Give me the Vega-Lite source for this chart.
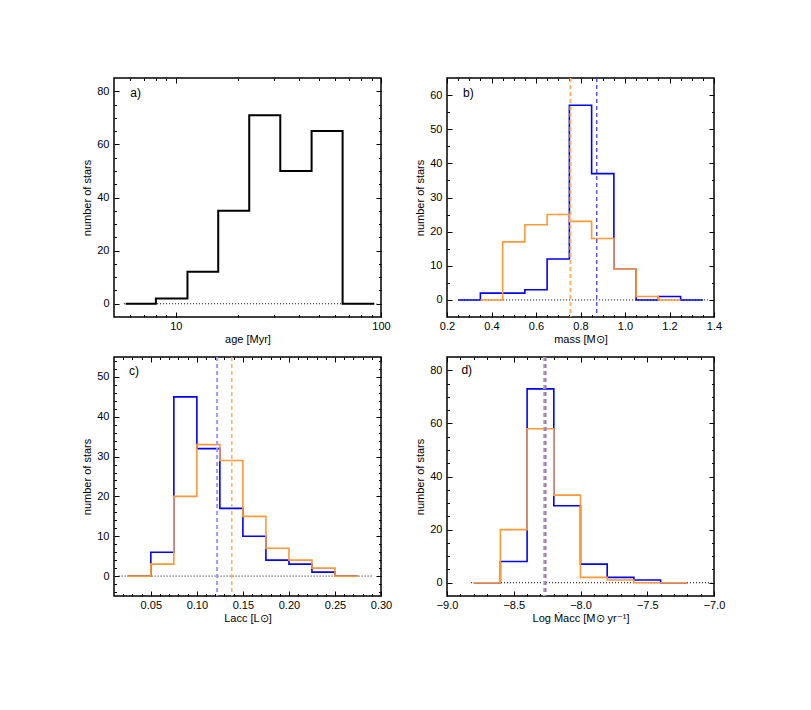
{
"$schema": "https://vega.github.io/schema/vega-lite/v6.json",
"background": "white",
"padding": {"left": 81, "top": 76, "right": 5, "bottom": 5},
"datasets": {
 "a_hist": [{"x":5.7,"count":0},{"x":8.0,"count":2},{"x":11.4,"count":12},{"x":16.1,"count":35},{"x":22.8,"count":71},{"x":32.3,"count":50},{"x":45.9,"count":65},{"x":65.0,"count":0},{"x":92.7,"count":0}],
 "b_hist": [
  {"sample":"S1","x":0.25,"count":0},{"sample":"S1","x":0.35,"count":2},{"sample":"S1","x":0.45,"count":2},{"sample":"S1","x":0.55,"count":3},{"sample":"S1","x":0.65,"count":12},{"sample":"S1","x":0.75,"count":57},{"sample":"S1","x":0.85,"count":37},{"sample":"S1","x":0.95,"count":9},{"sample":"S1","x":1.05,"count":0},{"sample":"S1","x":1.15,"count":1},{"sample":"S1","x":1.25,"count":0},{"sample":"S1","x":1.35,"count":0},
  {"sample":"S2","x":0.35,"count":0},{"sample":"S2","x":0.45,"count":17},{"sample":"S2","x":0.55,"count":22},{"sample":"S2","x":0.65,"count":25},{"sample":"S2","x":0.75,"count":23},{"sample":"S2","x":0.85,"count":18},{"sample":"S2","x":0.95,"count":9},{"sample":"S2","x":1.05,"count":1},{"sample":"S2","x":1.15,"count":0},{"sample":"S2","x":1.25,"count":0}],
 "c_hist": [
  {"sample":"S1","x":0.025,"count":0},{"sample":"S1","x":0.05,"count":6},{"sample":"S1","x":0.075,"count":45},{"sample":"S1","x":0.1,"count":32},{"sample":"S1","x":0.125,"count":17},{"sample":"S1","x":0.15,"count":10},{"sample":"S1","x":0.175,"count":4},{"sample":"S1","x":0.2,"count":3},{"sample":"S1","x":0.225,"count":1},{"sample":"S1","x":0.25,"count":0},{"sample":"S1","x":0.275,"count":0},
  {"sample":"S2","x":0.025,"count":0},{"sample":"S2","x":0.05,"count":3},{"sample":"S2","x":0.075,"count":20},{"sample":"S2","x":0.1,"count":33},{"sample":"S2","x":0.125,"count":29},{"sample":"S2","x":0.15,"count":15},{"sample":"S2","x":0.175,"count":7},{"sample":"S2","x":0.2,"count":4},{"sample":"S2","x":0.225,"count":2},{"sample":"S2","x":0.25,"count":0},{"sample":"S2","x":0.275,"count":0}],
 "d_hist": [
  {"sample":"S1","x":-8.8,"count":0},{"sample":"S1","x":-8.6,"count":8},{"sample":"S1","x":-8.4,"count":73},{"sample":"S1","x":-8.2,"count":29},{"sample":"S1","x":-8.0,"count":7},{"sample":"S1","x":-7.8,"count":2},{"sample":"S1","x":-7.6,"count":1},{"sample":"S1","x":-7.4,"count":0},{"sample":"S1","x":-7.2,"count":0},
  {"sample":"S2","x":-8.8,"count":0},{"sample":"S2","x":-8.6,"count":20},{"sample":"S2","x":-8.4,"count":58},{"sample":"S2","x":-8.2,"count":33},{"sample":"S2","x":-8.0,"count":2},{"sample":"S2","x":-7.8,"count":1},{"sample":"S2","x":-7.6,"count":0},{"sample":"S2","x":-7.4,"count":0},{"sample":"S2","x":-7.2,"count":0}],
 "zero": [{"panel":"a","x0":5.6,"x1":95},{"panel":"b","x0":0.25,"x1":1.38},{"panel":"c","x0":0.015,"x1":0.29},{"panel":"d","x0":-8.82,"x1":-7.02}],
 "means": [{"panel":"b","sample":"S2","mean":0.755},{"panel":"b","sample":"S1","mean":0.873},{"panel":"c","sample":"S1","mean":0.122},{"panel":"c","sample":"S2","mean":0.138},{"panel":"d","sample":"S2","mean":-8.272},{"panel":"d","sample":"S1","mean":-8.262}],
 "labels": [{"panel":"a","label":"a)"},{"panel":"b","label":"b)"},{"panel":"c","label":"c)"},{"panel":"d","label":"d)"}]
},
"columns": 2,
"spacing": {"row": 10, "column": 21},
"concat": [
 {
  "width": 267, "height": 239,
  "resolve": {"axis": {"x": "independent", "y": "independent"}},
  "layer": [
   {"data":{"name":"a_hist"},"mark":{"type":"point","opacity":0},
    "encoding":{"x":{"field":"x","type":"quantitative","scale":{"type":"log","domain":[5,100],"nice":false},"axis":{"orient":"bottom","values":[10,100],"labels":false,"tickSize":-5,"title":null}},
     "y":{"field":"count","type":"quantitative","axis":{"orient":"left","values":[0,20,40,60,80],"labels":false,"tickSize":-5,"title":null}}}},
   {"data":{"name":"a_hist"},"mark":{"type":"point","opacity":0},
    "encoding":{"x":{"field":"x","type":"quantitative","scale":{"type":"log","domain":[5,100],"nice":false},"axis":{"orient":"bottom","values":[6,7,8,9,20,30,40,50,60,70,80,90],"labels":false,"tickSize":-2.5,"title":null}},
     "y":{"field":"count","type":"quantitative","axis":{"orient":"left","values":[5,10,15,25,30,35,45,50,55,65,70,75],"labels":false,"tickSize":-2.5,"title":null}}}},
   {"data":{"name":"a_hist"},"mark":{"type":"point","opacity":0},
    "encoding":{"x":{"field":"x","type":"quantitative","scale":{"type":"log","domain":[5,100],"nice":false},"axis":{"orient":"top","values":[10,100],"labels":false,"tickSize":-5,"title":null}},
     "y":{"field":"count","type":"quantitative","axis":{"orient":"right","values":[0,20,40,60,80],"labels":false,"tickSize":-5,"title":null}}}},
   {"data":{"name":"a_hist"},"mark":{"type":"point","opacity":0},
    "encoding":{"x":{"field":"x","type":"quantitative","scale":{"type":"log","domain":[5,100],"nice":false},"axis":{"orient":"top","values":[6,7,8,9,20,30,40,50,60,70,80,90],"labels":false,"tickSize":-2.5,"title":null}},
     "y":{"field":"count","type":"quantitative","axis":{"orient":"right","values":[5,10,15,25,30,35,45,50,55,65,70,75],"labels":false,"tickSize":-2.5,"title":null}}}},
   {"data":{"name":"zero"},"transform":[{"filter":"datum.panel=='a'"}],"mark":{"type":"rule","color":"black","strokeWidth":1,"strokeDash":[1,2]},
    "encoding":{"x":{"field":"x0","type":"quantitative","scale":{"type":"log","domain":[5,100],"nice":false},"axis":null},"x2":{"field":"x1"},"y":{"datum":0,"axis":null}}},
   {"data":{"name":"a_hist"},"mark":{"type":"line","interpolate":"step-after","color":"black","strokeWidth":2},
    "encoding":{"x":{"field":"x","type":"quantitative","scale":{"type":"log","domain":[5,100],"nice":false},"axis":{"orient":"bottom","values":[10,100],"format":"d","ticks":false,"labelPadding":3,"title":"age [Myr]","titlePadding":2}},
     "y":{"field":"count","type":"quantitative","scale":{"domain":[-5,85],"nice":false,"zero":false},"axis":{"orient":"left","values":[0,20,40,60,80],"format":"d","ticks":false,"labelPadding":5,"title":"number of stars","titlePadding":4}}}},
   {"data":{"name":"labels"},"transform":[{"filter":"datum.panel=='a'"}],"mark":{"type":"text","align":"left","baseline":"middle","fontSize":12},
    "encoding":{"x":{"datum":6.0,"scale":{"type":"log","domain":[5,100],"nice":false},"axis":null},"y":{"datum":79.5,"axis":null},"text":{"field":"label"}}}
  ]
 },
 {
  "width": 267, "height": 239,
  "resolve": {"axis": {"x": "independent", "y": "independent"}},
  "layer": [
   {"data":{"name":"b_hist"},"mark":{"type":"point","opacity":0},
    "encoding":{"x":{"field":"x","type":"quantitative","axis":{"orient":"bottom","values":[0.2,0.4,0.6,0.8,1.0,1.2,1.4],"labels":false,"tickSize":-5,"title":null}},
     "y":{"field":"count","type":"quantitative","axis":{"orient":"left","values":[0,10,20,30,40,50,60],"labels":false,"tickSize":-5,"title":null}}}},
   {"data":{"name":"b_hist"},"mark":{"type":"point","opacity":0},
    "encoding":{"x":{"field":"x","type":"quantitative","axis":{"orient":"bottom","values":[0.25,0.3,0.35,0.45,0.5,0.55,0.65,0.7,0.75,0.85,0.9,0.95,1.05,1.1,1.15,1.25,1.3,1.35],"labels":false,"tickSize":-2.5,"title":null}},
     "y":{"field":"count","type":"quantitative","axis":{"orient":"left","values":[5,15,25,35,45,55],"labels":false,"tickSize":-2.5,"title":null}}}},
   {"data":{"name":"b_hist"},"mark":{"type":"point","opacity":0},
    "encoding":{"x":{"field":"x","type":"quantitative","axis":{"orient":"top","values":[0.2,0.4,0.6,0.8,1.0,1.2,1.4],"labels":false,"tickSize":-5,"title":null}},
     "y":{"field":"count","type":"quantitative","axis":{"orient":"right","values":[0,10,20,30,40,50,60],"labels":false,"tickSize":-5,"title":null}}}},
   {"data":{"name":"b_hist"},"mark":{"type":"point","opacity":0},
    "encoding":{"x":{"field":"x","type":"quantitative","axis":{"orient":"top","values":[0.25,0.3,0.35,0.45,0.5,0.55,0.65,0.7,0.75,0.85,0.9,0.95,1.05,1.1,1.15,1.25,1.3,1.35],"labels":false,"tickSize":-2.5,"title":null}},
     "y":{"field":"count","type":"quantitative","axis":{"orient":"right","values":[5,15,25,35,45,55],"labels":false,"tickSize":-2.5,"title":null}}}},
   {"data":{"name":"zero"},"transform":[{"filter":"datum.panel=='b'"}],"mark":{"type":"rule","color":"black","strokeWidth":1,"strokeDash":[1,2]},
    "encoding":{"x":{"field":"x0","type":"quantitative","axis":null},"x2":{"field":"x1"},"y":{"datum":0,"axis":null}}},
   {"data":{"name":"b_hist"},"mark":{"type":"line","interpolate":"step-after","strokeWidth":1.6},
    "encoding":{"x":{"field":"x","type":"quantitative","scale":{"domain":[0.2,1.4],"nice":false,"zero":false},"axis":{"orient":"bottom","values":[0.2,0.4,0.6,0.8,1.0,1.2,1.4],"format":".1f","ticks":false,"labelPadding":3,"title":"mass [M⊙]","titlePadding":2}},
     "y":{"field":"count","type":"quantitative","scale":{"domain":[-5,65],"nice":false,"zero":false},"axis":{"orient":"left","values":[0,10,20,30,40,50,60],"format":"d","ticks":false,"labelPadding":5,"title":"number of stars","titlePadding":4}},
     "color":{"field":"sample","type":"nominal","scale":{"domain":["S1","S2"],"range":["#0000ff","#ff9933"]},"legend":null}}},
   {"data":{"name":"means"},"transform":[{"filter":"datum.panel=='b' && datum.sample=='S2'"}],"mark":{"type":"rule","color":"#ffb366","strokeWidth":2,"strokeDash":[4,3]},
    "encoding":{"x":{"field":"mean","type":"quantitative","axis":null}}},
   {"data":{"name":"means"},"transform":[{"filter":"datum.panel=='b' && datum.sample=='S1'"}],"mark":{"type":"rule","color":"#3333ff","strokeWidth":1.2,"strokeDash":[4,3]},
    "encoding":{"x":{"field":"mean","type":"quantitative","axis":null}}},
   {"data":{"name":"labels"},"transform":[{"filter":"datum.panel=='b'"}],"mark":{"type":"text","align":"left","baseline":"middle","fontSize":12},
    "encoding":{"x":{"datum":0.272,"axis":null},"y":{"datum":60.6,"axis":null},"text":{"field":"label"}}}
  ]
 },
 {
  "width": 267, "height": 239,
  "resolve": {"axis": {"x": "independent", "y": "independent"}},
  "layer": [
   {"data":{"name":"c_hist"},"mark":{"type":"point","opacity":0},
    "encoding":{"x":{"field":"x","type":"quantitative","axis":{"orient":"bottom","values":[0.05,0.1,0.15,0.2,0.25,0.3],"labels":false,"tickSize":-5,"title":null}},
     "y":{"field":"count","type":"quantitative","axis":{"orient":"left","values":[0,10,20,30,40,50],"labels":false,"tickSize":-5,"title":null}}}},
   {"data":{"name":"c_hist"},"mark":{"type":"point","opacity":0},
    "encoding":{"x":{"field":"x","type":"quantitative","axis":{"orient":"bottom","values":[0.02,0.03,0.04,0.06,0.07,0.08,0.09,0.11,0.12,0.13,0.14,0.16,0.17,0.18,0.19,0.21,0.22,0.23,0.24,0.26,0.27,0.28,0.29],"labels":false,"tickSize":-2.5,"title":null}},
     "y":{"field":"count","type":"quantitative","axis":{"orient":"left","values":[-4,-2,2,4,6,8,12,14,16,18,22,24,26,28,32,34,36,38,42,44,46,48,52,54],"labels":false,"tickSize":-2.5,"title":null}}}},
   {"data":{"name":"c_hist"},"mark":{"type":"point","opacity":0},
    "encoding":{"x":{"field":"x","type":"quantitative","axis":{"orient":"top","values":[0.05,0.1,0.15,0.2,0.25,0.3],"labels":false,"tickSize":-5,"title":null}},
     "y":{"field":"count","type":"quantitative","axis":{"orient":"right","values":[0,10,20,30,40,50],"labels":false,"tickSize":-5,"title":null}}}},
   {"data":{"name":"c_hist"},"mark":{"type":"point","opacity":0},
    "encoding":{"x":{"field":"x","type":"quantitative","axis":{"orient":"top","values":[0.02,0.03,0.04,0.06,0.07,0.08,0.09,0.11,0.12,0.13,0.14,0.16,0.17,0.18,0.19,0.21,0.22,0.23,0.24,0.26,0.27,0.28,0.29],"labels":false,"tickSize":-2.5,"title":null}},
     "y":{"field":"count","type":"quantitative","axis":{"orient":"right","values":[-4,-2,2,4,6,8,12,14,16,18,22,24,26,28,32,34,36,38,42,44,46,48,52,54],"labels":false,"tickSize":-2.5,"title":null}}}},
   {"data":{"name":"zero"},"transform":[{"filter":"datum.panel=='c'"}],"mark":{"type":"rule","color":"black","strokeWidth":1,"strokeDash":[1,2]},
    "encoding":{"x":{"field":"x0","type":"quantitative","axis":null},"x2":{"field":"x1"},"y":{"datum":0,"axis":null}}},
   {"data":{"name":"c_hist"},"mark":{"type":"line","interpolate":"step-after","strokeWidth":1.6},
    "encoding":{"x":{"field":"x","type":"quantitative","scale":{"domain":[0.01,0.3],"nice":false,"zero":false},"axis":{"orient":"bottom","values":[0.05,0.1,0.15,0.2,0.25,0.3],"format":".2f","ticks":false,"labelPadding":3,"title":"Lacc [L⊙]","titlePadding":2}},
     "y":{"field":"count","type":"quantitative","scale":{"domain":[-5,55],"nice":false,"zero":false},"axis":{"orient":"left","values":[0,10,20,30,40,50],"format":"d","ticks":false,"labelPadding":5,"title":"number of stars","titlePadding":4}},
     "color":{"field":"sample","type":"nominal","scale":{"domain":["S1","S2"],"range":["#0000ff","#ff9933"]},"legend":null}}},
   {"data":{"name":"means"},"transform":[{"filter":"datum.panel=='c' && datum.sample=='S1'"}],"mark":{"type":"rule","color":"#9999ff","strokeWidth":2,"strokeDash":[4,3]},
    "encoding":{"x":{"field":"mean","type":"quantitative","axis":null}}},
   {"data":{"name":"means"},"transform":[{"filter":"datum.panel=='c' && datum.sample=='S2'"}],"mark":{"type":"rule","color":"#ff9933","strokeWidth":1.2,"strokeDash":[4,3]},
    "encoding":{"x":{"field":"mean","type":"quantitative","axis":null}}},
   {"data":{"name":"labels"},"transform":[{"filter":"datum.panel=='c'"}],"mark":{"type":"text","align":"left","baseline":"middle","fontSize":12},
    "encoding":{"x":{"datum":0.0263,"axis":null},"y":{"datum":51.5,"axis":null},"text":{"field":"label"}}}
  ]
 },
 {
  "width": 267, "height": 239,
  "resolve": {"axis": {"x": "independent", "y": "independent"}},
  "layer": [
   {"data":{"name":"d_hist"},"mark":{"type":"point","opacity":0},
    "encoding":{"x":{"field":"x","type":"quantitative","axis":{"orient":"bottom","values":[-9,-8.5,-8,-7.5,-7],"labels":false,"tickSize":-5,"title":null}},
     "y":{"field":"count","type":"quantitative","axis":{"orient":"left","values":[0,20,40,60,80],"labels":false,"tickSize":-5,"title":null}}}},
   {"data":{"name":"d_hist"},"mark":{"type":"point","opacity":0},
    "encoding":{"x":{"field":"x","type":"quantitative","axis":{"orient":"bottom","values":[-8.9,-8.8,-8.7,-8.6,-8.4,-8.3,-8.2,-8.1,-7.9,-7.8,-7.7,-7.6,-7.4,-7.3,-7.2,-7.1],"labels":false,"tickSize":-2.5,"title":null}},
     "y":{"field":"count","type":"quantitative","axis":{"orient":"left","values":[5,10,15,25,30,35,45,50,55,65,70,75],"labels":false,"tickSize":-2.5,"title":null}}}},
   {"data":{"name":"d_hist"},"mark":{"type":"point","opacity":0},
    "encoding":{"x":{"field":"x","type":"quantitative","axis":{"orient":"top","values":[-9,-8.5,-8,-7.5,-7],"labels":false,"tickSize":-5,"title":null}},
     "y":{"field":"count","type":"quantitative","axis":{"orient":"right","values":[0,20,40,60,80],"labels":false,"tickSize":-5,"title":null}}}},
   {"data":{"name":"d_hist"},"mark":{"type":"point","opacity":0},
    "encoding":{"x":{"field":"x","type":"quantitative","axis":{"orient":"top","values":[-8.9,-8.8,-8.7,-8.6,-8.4,-8.3,-8.2,-8.1,-7.9,-7.8,-7.7,-7.6,-7.4,-7.3,-7.2,-7.1],"labels":false,"tickSize":-2.5,"title":null}},
     "y":{"field":"count","type":"quantitative","axis":{"orient":"right","values":[5,10,15,25,30,35,45,50,55,65,70,75],"labels":false,"tickSize":-2.5,"title":null}}}},
   {"data":{"name":"zero"},"transform":[{"filter":"datum.panel=='d'"}],"mark":{"type":"rule","color":"black","strokeWidth":1,"strokeDash":[1,2]},
    "encoding":{"x":{"field":"x0","type":"quantitative","axis":null},"x2":{"field":"x1"},"y":{"datum":0,"axis":null}}},
   {"data":{"name":"d_hist"},"mark":{"type":"line","interpolate":"step-after","strokeWidth":1.6},
    "encoding":{"x":{"field":"x","type":"quantitative","scale":{"domain":[-9,-7],"nice":false,"zero":false},"axis":{"orient":"bottom","values":[-9,-8.5,-8,-7.5,-7],"format":".1f","ticks":false,"labelPadding":3,"title":"Log Ṁacc [M⊙ yr⁻¹]","titlePadding":2}},
     "y":{"field":"count","type":"quantitative","scale":{"domain":[-5,85],"nice":false,"zero":false},"axis":{"orient":"left","values":[0,20,40,60,80],"format":"d","ticks":false,"labelPadding":5,"title":"number of stars","titlePadding":4}},
     "color":{"field":"sample","type":"nominal","scale":{"domain":["S1","S2"],"range":["#0000ff","#ff9933"]},"legend":null}}},
   {"data":{"name":"means"},"transform":[{"filter":"datum.panel=='d' && datum.sample=='S2'"}],"mark":{"type":"rule","color":"#ffaa55","strokeWidth":2.5,"strokeDash":[4,3]},
    "encoding":{"x":{"field":"mean","type":"quantitative","axis":null}}},
   {"data":{"name":"means"},"transform":[{"filter":"datum.panel=='d' && datum.sample=='S1'"}],"mark":{"type":"rule","color":"#7777ff","strokeWidth":2,"strokeDash":[4,3]},
    "encoding":{"x":{"field":"mean","type":"quantitative","axis":null}}},
   {"data":{"name":"labels"},"transform":[{"filter":"datum.panel=='d'"}],"mark":{"type":"text","align":"left","baseline":"middle","fontSize":12},
    "encoding":{"x":{"datum":-8.892,"axis":null},"y":{"datum":80,"axis":null},"text":{"field":"label"}}}
  ]
 }
],
"config": {
 "view": {"stroke": "black", "strokeWidth": 1.5},
 "axis": {"grid": false, "domain": false, "labelFlush": false, "labelOverlap": false, "labelFont": "Liberation Sans", "labelFontSize": 11, "labelColor": "black", "titleFont": "Liberation Sans", "titleFontSize": 11, "titleFontWeight": "normal", "titleColor": "black", "tickColor": "black", "tickWidth": 1},
 "text": {"font": "Liberation Sans", "color": "black"}
}
}
